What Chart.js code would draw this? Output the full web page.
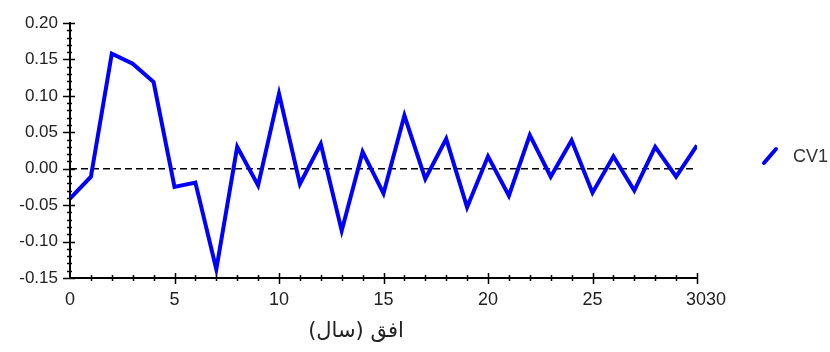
<!DOCTYPE html>
<html>
<head>
<meta charset="utf-8">
<script src="https://cdn.jsdelivr.net/npm/chart.js@4"></script>
<style>
  html, body { margin: 0; padding: 0; background: #fff; }
  #wrap { width: 830px; height: 352px; position: relative; }
</style>
</head>
<body>
<div id="wrap"><canvas id="chart"></canvas></div>
<script>
// horizon (years) and the CV1 response
const years = [0, 1, 2, 3, 4, 5, 6, 7, 8, 9, 10, 11, 12, 13, 14, 15, 16, 17, 18, 19, 20,
               21, 22, 23, 24, 25, 26, 27, 28, 29, 30];
const cv1 = [-0.041, -0.011, 0.158, 0.144, 0.119, -0.025, -0.019, -0.138, 0.030, -0.023, 0.103,
             -0.021, 0.034, -0.085, 0.023, -0.034, 0.073, -0.014, 0.041, -0.053, 0.017,
             -0.037, 0.046, -0.011, 0.039, -0.033, 0.017, -0.030, 0.030, -0.011, 0.032];
const seriesName = "CV1";
const xTitle = "افق (سال)";
// the last label is drawn twice in the original, hence "3030"
const xTickLabels = {0: "0", 5: "5", 10: "10", 15: "15", 20: "20", 25: "25", 30: "\u2002\u20023030"};
const yTickLabels = [0.20, 0.15, 0.10, 0.05, 0.00, -0.05, -0.10, -0.15];

function isMajorY(v) {
    return yTickLabels.some(t => Math.abs(t - v) < 1e-6);
}

// tick marks, zero line, axis title and legend
const extras = {
    id: 'extras',
    beforeDatasetsDraw(chart) {
        const ctx = chart.ctx;
        const x = chart.scales.x, y = chart.scales.y;
        const y0 = y.getPixelForValue(0);
        ctx.save();
        ctx.strokeStyle = '#000';
        ctx.lineWidth = 1.5;
        ctx.setLineDash([7, 4]);
        ctx.beginPath();
        ctx.moveTo(x.getPixelForValue(years[0]), y0);
        ctx.lineTo(x.getPixelForValue(years[years.length - 1]), y0);
        ctx.stroke();
        ctx.restore();
    },
    afterDraw(chart) {
        const ctx = chart.ctx;
        const x = chart.scales.x, y = chart.scales.y;
        const area = chart.chartArea;
        ctx.save();
        ctx.strokeStyle = '#000';
        ctx.lineWidth = 1.5;
        ctx.beginPath();
        // x ticks
        for (let v = 1; v <= 30; v++) {
            const px = Math.round(x.getPixelForValue(v)) + 0.5;
            const major = v % 5 === 0;
            ctx.moveTo(px, area.bottom - (major ? 5 : 3));
            ctx.lineTo(px, area.bottom + (major ? 6 : 3));
        }
        // y ticks
        for (let i = 0; i <= 35; i++) {
            const v = -0.15 + i * 0.01;
            const py = Math.round(y.getPixelForValue(v)) + 0.5;
            const major = isMajorY(v);
            ctx.moveTo(area.left - (major ? 7 : 3), py);
            ctx.lineTo(area.left + (major ? 5 : 2), py);
        }
        ctx.stroke();

        // axis title
        ctx.fillStyle = '#222';
        ctx.font = '21px "DejaVu Sans"';
        ctx.textAlign = 'center';
        ctx.textBaseline = 'middle';
        ctx.fillText(xTitle, 356, 332);

        // legend
        ctx.strokeStyle = '#0000ff';
        ctx.lineWidth = 4;
        ctx.lineCap = 'round';
        ctx.beginPath();
        ctx.moveTo(764, 163);
        ctx.lineTo(776, 149);
        ctx.stroke();
        ctx.fillStyle = '#333';
        ctx.font = '18px "Liberation Sans"';
        ctx.textAlign = 'left';
        ctx.fillText(chart.data.datasets[0].label, 793, 157);
        ctx.restore();
    }
};

new Chart(document.getElementById('chart'), {
    type: 'line',
    data: {
        datasets: [{
            label: seriesName,
            data: years.map((yr, i) => ({x: yr, y: cv1[i]})),
            borderColor: '#0000ff',
            borderWidth: 4,
            pointRadius: 0,
            tension: 0,
            fill: false
        }]
    },
    options: {
        responsive: true,
        maintainAspectRatio: false,
        animation: false,
        layout: {padding: {top: 23, right: 133, left: 0, bottom: 0}},
        plugins: {legend: {display: false}, tooltip: {enabled: false}},
        scales: {
            x: {
                type: 'linear',
                min: 0,
                max: 30,
                afterFit: s => { s.height = 74; },
                grid: {display: false, drawTicks: false},
                border: {display: true, color: '#000', width: 2},
                ticks: {
                    stepSize: 1,
                    autoSkip: false,
                    maxRotation: 0,
                    padding: 11,
                    color: '#222',
                    font: {family: '"Liberation Sans"', size: 18},
                    callback: v => xTickLabels[v] !== undefined ? xTickLabels[v] : ''
                }
            },
            y: {
                min: -0.15,
                max: 0.20,
                afterFit: s => { s.width = 70; },
                grid: {display: false, drawTicks: false},
                border: {display: true, color: '#000', width: 2},
                ticks: {
                    stepSize: 0.05,
                    autoSkip: false,
                    padding: 12,
                    color: '#222',
                    font: {family: '"Liberation Sans"', size: 17},
                    callback: v => isMajorY(v) ? v.toFixed(2) : ''
                }
            }
        }
    },
    plugins: [extras]
});
</script>
</body>
</html>
